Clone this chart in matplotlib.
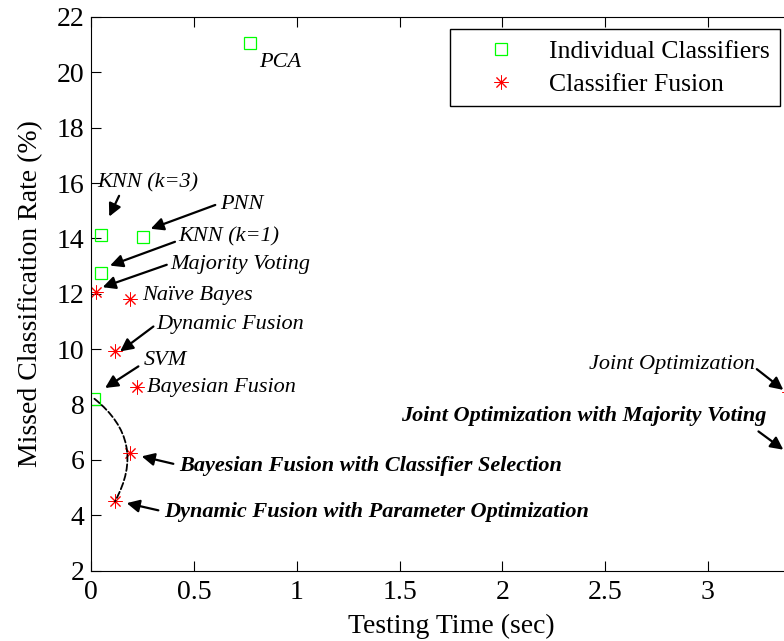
import matplotlib
matplotlib.use("Agg")
import matplotlib.pyplot as plt

plt.rcParams['font.family'] = ['Liberation Serif', 'DejaVu Serif']

# individual classifiers (testing time in sec, missed classification rate in %)
indiv_names = ["PCA", "KNN (k=3)", "PNN", "KNN (k=1)", "SVM"]
indiv_time = [0.77, 0.046, 0.25, 0.046, 0.015]
indiv_rate = [21.05, 14.13, 14.07, 12.75, 8.21]

# classifier fusion methods
fusion_names = ["Majority Voting", "Naïve Bayes", "Dynamic Fusion", "Bayesian Fusion",
                "Bayesian Fusion with Classifier Selection",
                "Dynamic Fusion with Parameter Optimization",
                "Joint Optimization", "Joint Optimization with Majority Voting"]
fusion_time = [0.023, 0.188, 0.114, 0.221, 0.19, 0.115, 3.395, 3.43]
fusion_rate = [12.06, 11.82, 9.95, 8.65, 6.25, 4.50, 8.45, 6.19]

# label placement: text position, alignment, bold, arrow tail, arrow tip
labels = {
    "PCA": ((0.815, 20.34), 'left', False, None, None),
    "KNN (k=3)": ((0.028, 16.0), 'left', False, (0.135, 15.54), (0.087, 14.79)),
    "PNN": ((0.627, 15.21), 'left', False, (0.603, 15.21), (0.289, 14.35)),
    "KNN (k=1)": ((0.422, 14.06), 'left', False, (0.407, 13.88), (0.091, 13.02)),
    "Majority Voting": ((0.383, 13.05), 'left', False, (0.367, 13.05), (0.055, 12.24)),
    "Naïve Bayes": ((0.245, 11.94), 'left', False, None, None),
    "Dynamic Fusion": ((0.318, 10.88), 'left', False, (0.302, 10.82), (0.140, 9.92)),
    "SVM": ((0.253, 9.59), 'left', False, (0.229, 9.38), (0.067, 8.60)),
    "Bayesian Fusion": ((0.273, 8.62), 'left', False, None, None),
    "Bayesian Fusion with Classifier Selection": ((0.428, 5.77), 'left', True, (0.399, 5.86), (0.245, 6.13)),
    "Dynamic Fusion with Parameter Optimization": ((0.355, 4.12), 'left', True, (0.326, 4.18), (0.172, 4.44)),
    "Joint Optimization": ((3.23, 9.44), 'right', False, (3.238, 9.28), (3.367, 8.53)),
    "Joint Optimization with Majority Voting": ((3.287, 7.57), 'right', True, (3.246, 7.03), (3.367, 6.37)),
}

fig = plt.figure(figsize=(7.84, 6.41), dpi=100)
ax = fig.add_axes([0.1165, 0.1097, 0.9175, 0.8638])

ax.plot(indiv_time, indiv_rate, linestyle='none', marker='s', markersize=9,
        markerfacecolor='none', markeredgecolor='#00ff00', markeredgewidth=0.9,
        label='Individual Classifiers')
ax.plot(fusion_time, fusion_rate, linestyle='none', marker=(8, 2, 0), markersize=10,
        markeredgecolor='#ff0000', markeredgewidth=0.7, label='Classifier Fusion')

# dashed curve SVM -> BF w/ selection -> DF w/ param optimization
i_svm = indiv_names.index("SVM")
i_dfpo = fusion_names.index("Dynamic Fusion with Parameter Optimization")
ax.annotate("", xy=(fusion_time[i_dfpo], fusion_rate[i_dfpo]),
            xytext=(indiv_time[i_svm], indiv_rate[i_svm]),
            arrowprops=dict(arrowstyle='-', linestyle='--', color='black', lw=1.3,
                            shrinkA=0, shrinkB=0, connectionstyle='arc3,rad=-0.42'))

for name, (pos, ha, bold, tail, tip) in labels.items():
    ax.text(pos[0], pos[1], name, ha=ha, va='center', fontsize=16, style='italic',
            fontweight='bold' if bold else 'normal')
    if tail is not None:
        ax.annotate("", xy=tip, xytext=tail,
                    arrowprops=dict(arrowstyle='-|>', color='black', lw=1.6,
                                    mutation_scale=19, shrinkA=0, shrinkB=0))

ax.set_xlim(0, 3.5)
ax.set_ylim(2, 22)
ax.set_xticks([0, 0.5, 1, 1.5, 2, 2.5, 3, 3.5])
ax.set_xticklabels(['0', '0.5', '1', '1.5', '2', '2.5', '3', ''])
ax.set_yticks(range(2, 23, 2))
ax.tick_params(direction='in', length=7, width=0.8, labelsize=20, top=True, right=True)
ax.tick_params(axis='x', pad=7)
ax.tick_params(axis='y', pad=5)
ax.set_xlabel('Testing Time (sec)', fontsize=20, labelpad=6)
ax.set_ylabel('Missed Classification Rate (%)', fontsize=20, labelpad=10)

leg = ax.legend(loc='upper right', bbox_to_anchor=(780 / 784, 1 - 29.3 / 641),
                bbox_transform=fig.transFigure, borderaxespad=0, fontsize=18.5,
                handlelength=3.2, handletextpad=0.25, borderpad=0.4, labelspacing=0.4,
                fancybox=False, edgecolor='black', framealpha=1, numpoints=1)
leg.get_frame().set_linewidth(1.0)

fig.savefig('out.png', dpi=100)
